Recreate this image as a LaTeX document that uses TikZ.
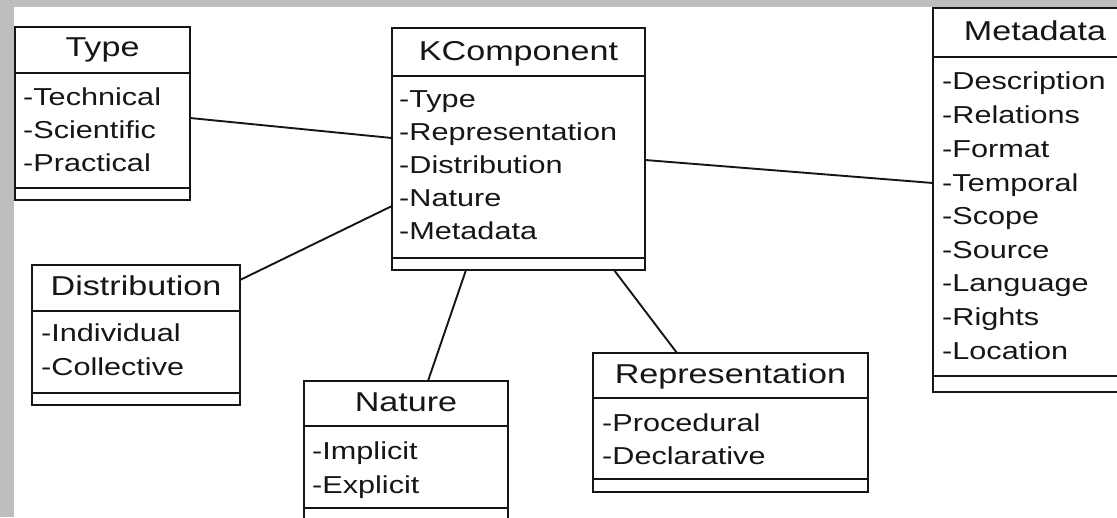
\documentclass[tikz,border=0pt]{standalone}
\usepackage{fontspec}
\setmainfont{Liberation Sans}[FakeStretch=1.25]
\newcommand{\attrfont}{\fontsize{24.5}{33.5}\selectfont}
\newcommand{\headfont}{\fontsize{27.3}{33.5}\selectfont}
\definecolor{bggray}{RGB}{190,190,190}
\definecolor{ink}{RGB}{22,22,22}
\begin{document}
\begin{tikzpicture}[x=1pt,y=-1pt,
  classbox/.style={draw=ink, line width=2.4pt, rectangle, inner sep=0pt, outer sep=0pt, anchor=north west},
  sepline/.style={draw=ink, line width=2.4pt},
  assoc/.style={draw=ink, line width=1.9pt},
  head/.style={anchor=base, inner sep=0pt, font=\headfont, text=ink},
  attr/.style={anchor=base west, inner sep=0pt, font=\attrfont, text=ink}]
\useasboundingbox (0,0) rectangle (1117,517);
\clip (0,0) rectangle (1117,517);
\fill[bggray] (0,0) rectangle (1117,517);
\fill[white] (14,7) rectangle (1117,517);

% Type
\node[classbox, minimum width=175pt, minimum height=173pt] (type) at (15,27) {};
\draw[sepline] (type.west |- 0,73) -- (type.east |- 0,73);
\draw[sepline] (type.west |- 0,188) -- (type.east |- 0,188);
\node[head] (type-t) at (type.north |- 0,56) {Type};
\node[attr] (type-1) at (23,105) {-Technical};
\node[attr] (type-2) at (23,138) {-Scientific};
\node[attr] (type-3) at (23,171) {-Practical};

% KComponent
\node[classbox, minimum width=253pt, minimum height=242pt] (kc) at (392,28) {};
\draw[sepline] (kc.west |- 0,76) -- (kc.east |- 0,76);
\draw[sepline] (kc.west |- 0,258) -- (kc.east |- 0,258);
\node[head] (kc-t) at (kc.north |- 0,60) {KComponent};
\node[attr] (kc-1) at (399,107) {-Type};
\node[attr] (kc-2) at (399,140) {-Representation};
\node[attr] (kc-3) at (399,173) {-Distribution};
\node[attr] (kc-4) at (399,206) {-Nature};
\node[attr] (kc-5) at (399,239) {-Metadata};

% Metadata
\node[classbox, minimum width=200pt, minimum height=384pt] (meta) at (933,8) {};
\draw[sepline] (meta.west |- 0,57) -- (meta.east |- 0,57);
\draw[sepline] (meta.west |- 0,376) -- (meta.east |- 0,376);
\node[head] (meta-t) at (1035,40) {Metadata};
\node[attr] (meta-1) at (942,89) {-Description};
\node[attr] (meta-2) at (942,123) {-Relations};
\node[attr] (meta-3) at (942,157) {-Format};
\node[attr] (meta-4) at (942,191) {-Temporal};
\node[attr] (meta-5) at (942,224) {-Scope};
\node[attr] (meta-6) at (942,258) {-Source};
\node[attr] (meta-7) at (942,291) {-Language};
\node[attr] (meta-8) at (942,325) {-Rights};
\node[attr] (meta-9) at (942,359) {-Location};

% Distribution
\node[classbox, minimum width=208pt, minimum height=140pt] (dist) at (32,265) {};
\draw[sepline] (dist.west |- 0,311) -- (dist.east |- 0,311);
\draw[sepline] (dist.west |- 0,393) -- (dist.east |- 0,393);
\node[head] (dist-t) at (dist.north |- 0,295) {Distribution};
\node[attr] (dist-1) at (41,341) {-Individual};
\node[attr] (dist-2) at (41,375) {-Collective};

% Nature
\node[classbox, minimum width=204pt, minimum height=150pt] (nature) at (304,381) {};
\draw[sepline] (nature.west |- 0,426) -- (nature.east |- 0,426);
\draw[sepline] (nature.west |- 0,508) -- (nature.east |- 0,508);
\node[head] (nature-t) at (nature.north |- 0,411) {Nature};
\node[attr] (nature-1) at (312,459) {-Implicit};
\node[attr] (nature-2) at (312,493) {-Explicit};

% Representation
\node[classbox, minimum width=275pt, minimum height=139pt] (rep) at (593,353) {};
\draw[sepline] (rep.west |- 0,398) -- (rep.east |- 0,398);
\draw[sepline] (rep.west |- 0,479) -- (rep.east |- 0,479);
\node[head] (rep-t) at (rep.north |- 0,383) {Representation};
\node[attr] (rep-1) at (602,431) {-Procedural};
\node[attr] (rep-2) at (602,464) {-Declarative};

% associations
\draw[assoc] (type.east |- 0,118) -- (kc.west |- 0,138);
\draw[assoc] (kc.east |- 0,160) -- (meta.west |- 0,183);
\draw[assoc] (kc.west |- 0,206) -- (dist.east |- 0,280);
\draw[assoc] (kc.south -| 466,0) -- (nature.north -| 428,0);
\draw[assoc] (kc.south -| 614,0) -- (rep.north -| 677,0);
\end{tikzpicture}
\end{document}
